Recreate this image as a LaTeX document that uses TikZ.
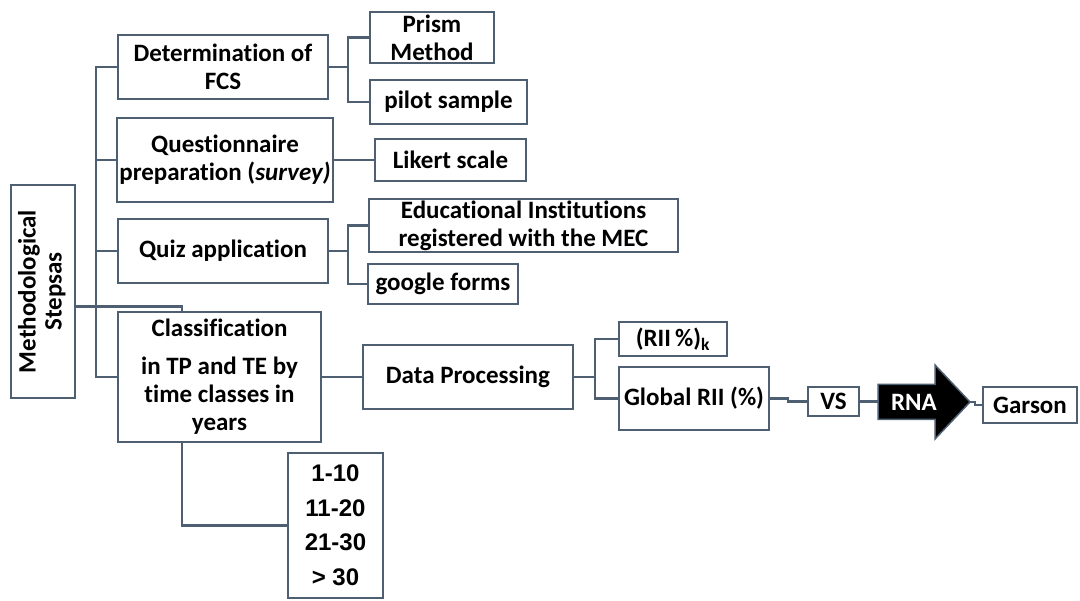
\documentclass[tikz,border=0pt]{standalone}
\usepackage{fontspec}
\setmainfont{Carlito}[Ligatures=NoCommon]
\newfontfamily\arialfont{Liberation Sans}
\definecolor{lc}{HTML}{4E5F72}
\tikzset{
  box/.style={draw=lc, line width=2.6pt, fill=white, inner sep=0pt, outer sep=0pt,
    align=center, font=\fontsize{25}{28}\selectfont\bfseries},
  conn/.style={draw=lc, line width=2.6pt},
}
\newcommand\bx[6]{\node[box, minimum width={#4-#2}, minimum height={#5-#3}] (#1) at ({(#2+#4)/2},{(#3+#5)/2}) {#6};}
\begin{document}
\begin{tikzpicture}[x=1pt,y=-1pt]
\useasboundingbox (0,0) rectangle (1080,601);
\bx{ms}{11}{185}{75}{398}{\rotatebox{90}{\begin{tabular}{@{}c@{}}Methodological\\[-2pt]Stepsas\end{tabular}}}
\bx{det}{118}{35}{328}{99}{Determination of\\FCS}
\bx{pr}{370}{12}{494}{63}{Prism\\Method}
\bx{pil}{370}{80}{527}{124}{pilot sample}
\bx{qp}{117}{118}{333}{202}{Questionnaire\\preparation (\textit{survey)}}
\bx{lik}{375}{139}{526}{181}{Likert scale}
\bx{quiz}{118}{219}{328}{283}{Quiz application}
\bx{edu}{369}{199}{678}{252}{Educational Institutions\\registered with the MEC}
\bx{gf}{368}{264}{518}{304}{google forms}
\bx{cl}{118}{312}{321}{442}{Classification\\[10pt]in TP and TE by\\time classes in\\years}
\bx{dp}{363}{345}{573}{409}{Data Processing}
\bx{rk}{619}{322}{727}{356}{(RII\,\%)\textsubscript{k}}
\bx{gl}{619}{367}{769}{430}{Global RII (\%)}
\bx{vs}{808}{387}{859}{416}{VS}
\bx{gar}{983}{387}{1077}{423}{Garson}
\node[box, font=\arialfont\fontsize{24}{34.5}\selectfont\bfseries, minimum width=95pt, minimum height=145pt] (lst) at (335.5,525.5) {1-10\\11-20\\21-30\\> 30};
% RNA arrow
\coordinate (rnatail) at (878,402);
\coordinate (rnatip) at (970,402);
\fill[black, draw=lc, line width=1.5pt, line join=miter] (878,384.5) -- (935,384.5) -- (935,365) -- (rnatip) -- (935,439) -- (935,419.5) -- (878,419.5) -- cycle;
\node[font=\fontsize{25}{28}\selectfont\bfseries, text=white, inner sep=0pt] (rna) at (914,402) {RNA};
% connectors
\coordinate (tr) at (96,0);
\draw[conn] (det.west) -| (tr |- cl.west) -- (cl.west);
\draw[conn] (qp.west) -- (tr |- qp.west);
\draw[conn] (quiz.west) -- (tr |- quiz.west);
\draw[conn] ([yshift=-15pt]ms.east) -| ([xshift=64pt]cl.north west);
\coordinate (b1) at (348,67);
\draw[conn] (det.east) -- (b1) |- (pr.west);
\draw[conn] (b1) |- (pil.west);
\draw[conn] (qp.east) -- (lik.west);
\coordinate (b2) at (348,251);
\draw[conn] (quiz.east) -- (b2) |- (edu.west);
\draw[conn] (b2) |- (gf.west);
\draw[conn] (cl.east) -- (dp.west);
\coordinate (b3) at (595,377);
\draw[conn] (dp.east) -- (b3) |- (rk.west);
\draw[conn] (b3) |- (gl.west);
\draw[conn] (gl.east) -- ++(19,0) |- (vs.west);
\draw[conn] (vs.east) -- (vs.east -| rnatail);
\draw[conn] (rnatip) -- ++(5,0) |- (gar.west);
\draw[conn] ([xshift=64pt]cl.south west) |- (lst.west);
\end{tikzpicture}
\end{document}
